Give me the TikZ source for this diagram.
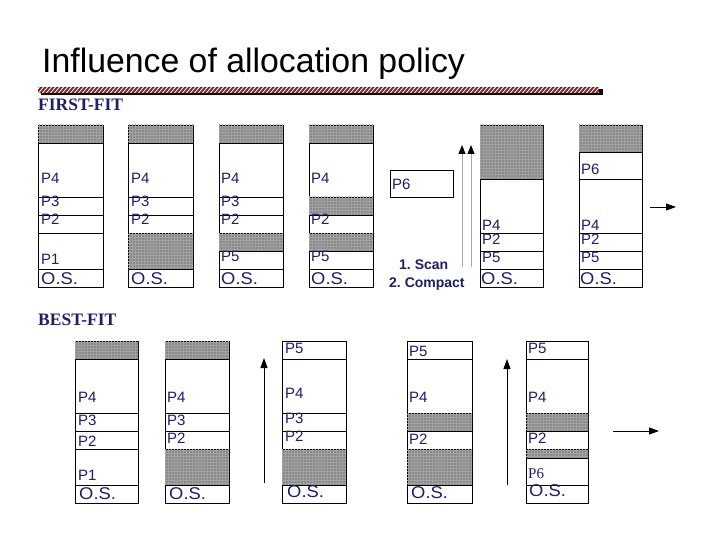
\documentclass[tikz,border=0pt]{standalone}
\usepackage{fontspec}
\setmainfont{Liberation Sans}
\newfontfamily\serifface{Liberation Serif}
\usetikzlibrary{patterns,arrows.meta}
\definecolor{navy}{HTML}{1E1E6A}
\definecolor{barred}{HTML}{8B1A1A}
\definecolor{holegray}{HTML}{8A8A8A}
\definecolor{holeline}{HTML}{A2A2A2}
\newcommand\blk[5]{\draw[#5] (#1,#3) rectangle (#2,#4);}
\newcommand\lab[3]{\node[lbl] at (#1,#2) {#3};}
\newcommand\oslab[2]{\node[oslbl] at (#1,#2) {O.S.};}
\begin{document}
\begin{tikzpicture}[x=1pt,y=-1pt,
  cellw/.style={draw=black, line width=0.9pt, fill=white},
  hole/.style={draw=black, line width=0.9pt, fill=holegray, postaction={pattern=grid, pattern color=holeline}},
  lbl/.style={text=navy, font=\fontsize{15}{15}\selectfont, anchor=base west, inner sep=0pt},
  oslbl/.style={text=navy, font=\fontsize{17}{17}\selectfont, anchor=base west, inner sep=0pt, xscale=1.08},
  heading/.style={text=navy, font=\serifface\bfseries\fontsize{17.5}{17.5}\selectfont, anchor=base west, inner sep=0pt},
  steplbl/.style={text=navy, font=\bfseries\fontsize{14}{14}\selectfont, anchor=base west, inner sep=0pt},
  uparrow/.style={line width=0.9pt, -{Triangle[length=10pt,width=7pt]}},
  grayarrow/.style={draw=gray!70, line width=1pt, -{Triangle[length=9pt,width=7pt,color=black]}},
]
\useasboundingbox[fill=white] (0,0) rectangle (720,540);

% title
\node[anchor=base west, inner sep=0pt, font=\fontsize{33.8}{33.8}\selectfont] (title) at (42,73) {Influence of allocation policy};
% hatched bar
\fill[black] (41,89) rectangle (603,95);
\fill[barred] (38,87) rectangle (599,93);
\begin{scope}
\clip (38,87) rectangle (599,93);
\foreach \i in {34,38,...,602} \draw[white, line width=0.9pt] (\i,93.5) -- (\i+6,86.5);
\end{scope}

% headings
\node[heading] (ff) at (38,111) {FIRST-FIT};
\node[heading] (bf) at (38,325) {BEST-FIT};

% ---------- FIRST-FIT ----------
% col 1
\blk{38}{103}{125}{143}{hole}
\blk{38}{103}{143}{197}{cellw} \lab{41}{184}{P4}
\blk{38}{103}{197}{215}{cellw} \lab{41}{207}{P3}
\blk{38}{103}{215}{233}{cellw} \lab{41}{225}{P2}
\blk{38}{103}{233}{269}{cellw} \lab{41}{264}{P1}
\blk{38}{103}{269}{287}{cellw} \oslab{41}{284}
% col 2
\blk{128}{193}{125}{143}{hole}
\blk{128}{193}{143}{197}{cellw} \lab{131}{184}{P4}
\blk{128}{193}{197}{215}{cellw} \lab{131}{207}{P3}
\blk{128}{193}{215}{233}{cellw} \lab{131}{225}{P2}
\blk{128}{193}{233}{269}{hole}
\blk{128}{193}{269}{287}{cellw} \oslab{131}{284}
% col 3
\blk{219}{283}{125}{143}{hole}
\blk{219}{283}{143}{197}{cellw} \lab{221}{184}{P4}
\blk{219}{283}{197}{215}{cellw} \lab{221}{207}{P3}
\blk{219}{283}{215}{233}{cellw} \lab{221}{225}{P2}
\blk{219}{283}{233}{251}{hole}
\blk{219}{283}{251}{269}{cellw} \lab{221}{261}{P5}
\blk{219}{283}{269}{287}{cellw} \oslab{221}{284}
% col 4
\blk{309}{373}{125}{143}{hole}
\blk{309}{373}{143}{197}{cellw} \lab{311}{184}{P4}
\blk{309}{373}{197}{215}{hole}
\blk{309}{373}{215}{233}{cellw} \lab{311}{225}{P2}
\blk{309}{373}{233}{251}{hole}
\blk{309}{373}{251}{269}{cellw} \lab{311}{261}{P5}
\blk{309}{373}{269}{287}{cellw} \oslab{311}{284}
% P6 request
\blk{390}{453}{170}{197}{cellw} \lab{392}{190}{P6}
% scan / compact
\coordinate (sA) at (462,267); \coordinate (tA) at (462,145);
\coordinate (sB) at (471,267); \coordinate (tB) at (471,145);
\draw[grayarrow] (sA) -- (tA);
\draw[grayarrow] (sB) -- (tB);
\node[steplbl] (scan) at (399,269) {1.\ Scan};
\node[steplbl] (compact) at (389,287) {2.\ Compact};
% col 5
\blk{480}{543}{125}{179}{hole}
\blk{480}{543}{179}{233}{cellw} \lab{482}{230}{P4}
\blk{480}{543}{233}{251}{cellw} \lab{482}{244}{P2}
\blk{480}{543}{251}{269}{cellw} \lab{482}{262}{P5}
\blk{480}{543}{269}{287}{cellw} \oslab{481}{284}
% col 6
\blk{579}{642}{125}{152}{hole}
\blk{579}{642}{152}{179}{cellw} \lab{581}{175}{P6}
\blk{579}{642}{179}{233}{cellw} \lab{581}{230}{P4}
\blk{579}{642}{233}{251}{cellw} \lab{581}{244}{P2}
\blk{579}{642}{251}{269}{cellw} \lab{581}{262}{P5}
\blk{579}{642}{269}{287}{cellw} \oslab{580}{284}
% right arrow
\coordinate (rA) at (650,207); \coordinate (rB) at (676,207);
\draw[uparrow] (rA) -- (rB);

% ---------- BEST-FIT ----------
% col 1
\blk{75}{138}{341}{359}{hole}
\blk{75}{138}{359}{413}{cellw} \lab{78}{402}{P4}
\blk{75}{138}{413}{431}{cellw} \lab{78}{425}{P3}
\blk{75}{138}{431}{449}{cellw} \lab{78}{446}{P2}
\blk{75}{138}{449}{485}{cellw} \lab{78}{480}{P1}
\blk{75}{138}{485}{503}{cellw} \oslab{79}{499}
% col 2
\blk{165}{229}{341}{359}{hole}
\blk{165}{229}{359}{413}{cellw} \lab{167}{402}{P4}
\blk{165}{229}{413}{431}{cellw} \lab{167}{425}{P3}
\blk{165}{229}{431}{449}{cellw} \lab{167}{443}{P2}
\blk{165}{229}{449}{485}{hole}
\blk{165}{229}{485}{503}{cellw} \oslab{169}{499}
% arrow 1
\coordinate (u1s) at (264,483); \coordinate (u1e) at (264,358);
\draw[uparrow] (u1s) -- (u1e);
% col 3
\blk{282}{346}{341}{359}{cellw} \lab{285}{353}{P5}
\blk{282}{346}{359}{413}{cellw} \lab{285}{398}{P4}
\blk{282}{346}{413}{431}{cellw}
\blk{282}{346}{431}{449}{cellw}
\blk{282}{346}{449}{485}{hole}
\blk{282}{346}{485}{503}{cellw} \oslab{287}{497}
\lab{285}{423}{P3}
\lab{285}{441}{P2}
% col 4
\blk{407}{472}{341}{359}{cellw} \lab{409}{356}{P5}
\blk{407}{472}{359}{413}{cellw} \lab{409}{402}{P4}
\blk{407}{472}{413}{431}{hole}
\blk{407}{472}{431}{449}{cellw} \lab{409}{444}{P2}
\blk{407}{472}{449}{485}{hole}
\blk{407}{472}{485}{503}{cellw} \oslab{411}{498}
% arrow 2
\coordinate (u2s) at (507,485); \coordinate (u2e) at (507,359);
\draw[uparrow] (u2s) -- (u2e);
% col 5
\blk{526}{588}{341}{359}{cellw} \lab{528}{353}{P5}
\blk{526}{588}{359}{413}{cellw} \lab{528}{402}{P4}
\blk{526}{588}{413}{431}{hole}
\blk{526}{588}{431}{449}{cellw}
\blk{526}{588}{449}{458}{hole}
\blk{526}{588}{458}{485}{cellw}
\blk{526}{588}{485}{503}{cellw} \oslab{529}{496}
\lab{528}{443}{P2}
\node[text=navy, font=\serifface\fontsize{15}{15}\selectfont, anchor=base west, inner sep=0pt] (p6b) at (528,478) {P6};
% right arrow
\coordinate (rC) at (613,431); \coordinate (rD) at (659,431);
\draw[uparrow] (rC) -- (rD);
\end{tikzpicture}
\end{document}
